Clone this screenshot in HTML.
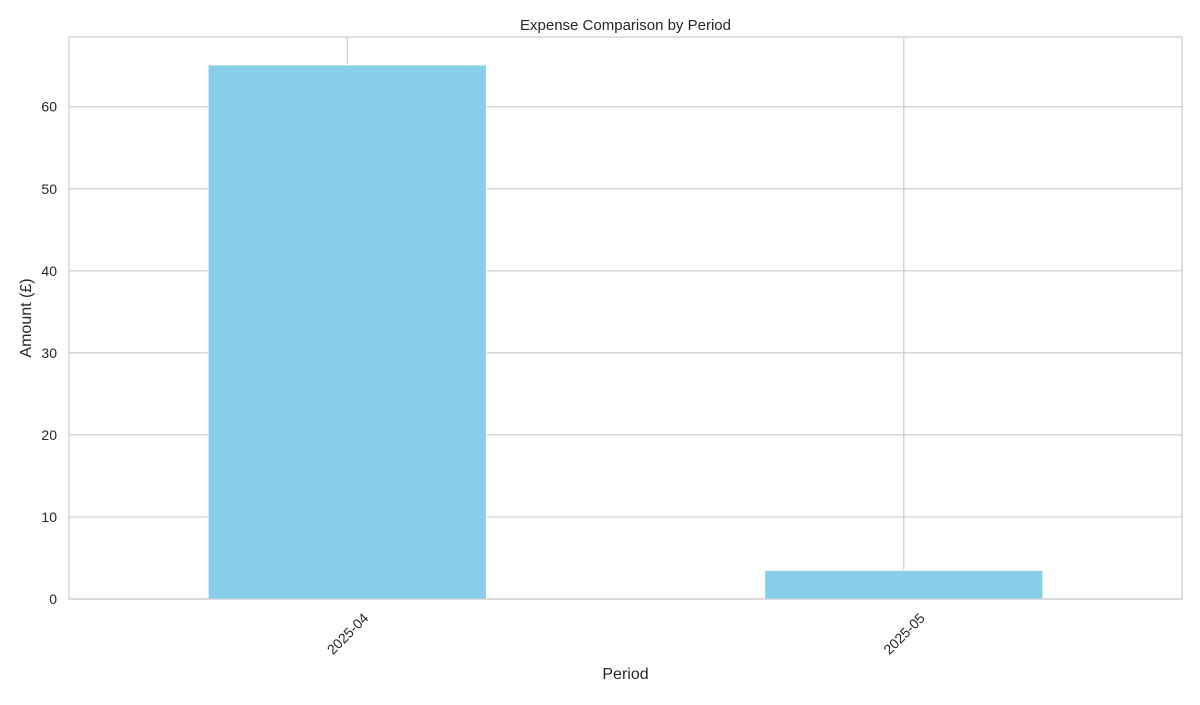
<!DOCTYPE html>
<html><head><meta charset="utf-8"><style>
body{margin:0;background:#fff;font-family:"Liberation Sans","DejaVu Sans",sans-serif;}
svg text{font-family:"Liberation Sans","DejaVu Sans",sans-serif;fill:#262626;}
</style></head><body>
<svg id="chart" width="1200" height="700" xmlns="http://www.w3.org/2000/svg">
<rect width="1200" height="700" fill="#fff"/>
<text x="625.5" y="30" font-size="15" text-anchor="middle">Expense Comparison by Period</text>
<g id="grid"></g><g id="bars"></g><g id="ticks"></g>
<rect x="69" y="37" width="1113" height="562" fill="none" stroke="#ccc" stroke-width="1.2"/>
<text x="625.5" y="679" font-size="16" text-anchor="middle">Period</text>
<text transform="translate(31,318) rotate(-90)" font-size="16" text-anchor="middle">Amount (£)</text>
</svg>
<script>
const categories = ['2025-04', '2025-05'];
const amounts = [65.1, 3.5];
const yTicks = [0, 10, 20, 30, 40, 50, 60];

const L = 69, R = 1182, T = 37, B = 599;
const yMax = 68.5;
const y = v => B - v / yMax * (B - T);
const step = (R - L) / categories.length;
const x = i => L + step * (i + 0.5);
const NS = 'http://www.w3.org/2000/svg';
function mk(tag, attrs, parent) { const e = document.createElementNS(NS, tag); for (const k in attrs) e.setAttribute(k, attrs[k]); parent.appendChild(e); return e; }
const grid = document.getElementById('grid'), bars = document.getElementById('bars'), ticks = document.getElementById('ticks');
yTicks.forEach(t => {
  const g = mk('line', {x1: L, x2: R, y1: y(t), y2: y(t), stroke: '#ccc', 'stroke-width': 1.2}, grid);
  
  
  const lb = mk('text', {x: L - 12, y: y(t) + 5, 'font-size': 14, 'text-anchor': 'end'}, ticks);
  lb.textContent = t;
  
  
});
categories.forEach((c, i) => {
  const g = mk('line', {x1: x(i), x2: x(i), y1: T, y2: B, stroke: '#ccc', 'stroke-width': 1.2}, grid);
  
  
  const w = step * 0.5;
  const b = mk('rect', {x: x(i) - w / 2, y: y(amounts[i]), width: w, height: B - y(amounts[i]), fill: '#87ceeb', stroke: '#fff', 'stroke-width': 1}, bars);
  
  
  const lb = mk('text', {transform: `translate(${x(i) + 22},${B + 20}) rotate(-45)`, 'font-size': 14, 'text-anchor': 'end'}, ticks);
  lb.textContent = c;
  
  
});
</script>
</body></html>
